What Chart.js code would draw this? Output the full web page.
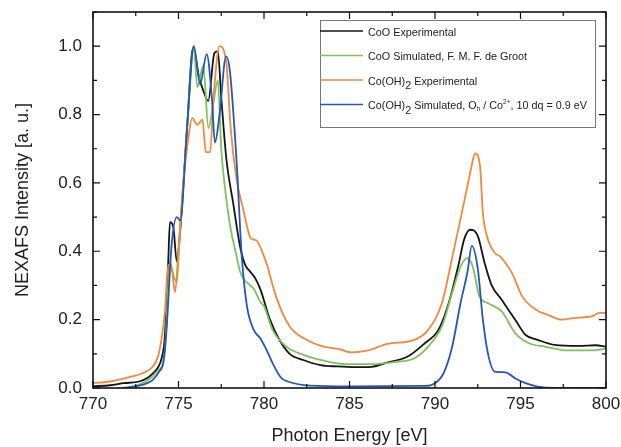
<!DOCTYPE html>
<html>
<head>
<meta charset="utf-8">
<script src="https://cdn.jsdelivr.net/npm/chart.js@4.4.1/dist/chart.umd.min.js"></script>
<style>
  html, body { margin: 0; padding: 0; background: #fff; }
</style>
</head>
<body>
<canvas id="myChart" width="621" height="447"></canvas>
<script>
// CoO experimental
var cooExpEnergy = [770.0, 771.0, 771.8, 772.7, 773.2, 773.5, 773.8, 774.0, 774.2, 774.4, 774.5, 774.7, 774.9, 775.1, 775.5, 775.85, 776.2, 776.45, 776.74, 777.1, 777.3, 777.5, 777.8, 778.2, 778.6, 778.9, 779.2, 779.5, 779.8, 780.35, 780.9, 781.5, 782.3, 783.3, 784.3, 785.3, 786.3, 787.2, 788.4, 789.4, 790.2, 790.8, 791.4, 791.7, 792.05, 792.5, 792.9, 793.3, 793.9, 794.7, 795.3, 796.0, 797.0, 798.4, 799.4, 800.0];
var cooExpIntensity = [0.005, 0.008, 0.014, 0.019, 0.03, 0.043, 0.06, 0.085, 0.15, 0.37, 0.485, 0.47, 0.37, 0.46, 0.76, 0.995, 0.91, 0.87, 0.84, 0.98, 0.985, 0.85, 0.67, 0.54, 0.414, 0.36, 0.34, 0.32, 0.287, 0.2, 0.141, 0.10, 0.082, 0.067, 0.063, 0.061, 0.062, 0.074, 0.092, 0.131, 0.17, 0.248, 0.366, 0.434, 0.463, 0.445, 0.366, 0.302, 0.258, 0.199, 0.155, 0.141, 0.126, 0.123, 0.125, 0.121];

// CoO simulated (de Groot)
var cooSimEnergy = [771.5, 772.0, 772.7, 773.3, 773.7, 773.9, 774.2, 774.35, 774.5, 774.7, 774.9, 775.1, 775.5, 775.9, 776.1, 776.45, 776.75, 777.0, 777.3, 777.5, 777.6, 778.0, 778.4, 778.6, 778.8, 779.2, 779.4, 779.8, 780.0, 780.5, 781.3, 782.3, 783.3, 784.7, 786.3, 787.6, 788.8, 789.6, 790.4, 791.0, 791.5, 791.9, 792.2, 792.6, 793.1, 793.9, 794.7, 795.5, 796.4, 797.8, 799.2, 800.0];
var cooSimIntensity = [0.0, 0.002, 0.01, 0.026, 0.045, 0.055, 0.10, 0.25, 0.37, 0.33, 0.31, 0.47, 0.76, 0.995, 0.88, 0.942, 0.76, 0.82, 0.90, 0.70, 0.64, 0.48, 0.385, 0.341, 0.32, 0.30, 0.29, 0.25, 0.24, 0.17, 0.121, 0.097, 0.082, 0.070, 0.07, 0.076, 0.087, 0.121, 0.18, 0.278, 0.356, 0.38, 0.356, 0.268, 0.248, 0.224, 0.160, 0.131, 0.121, 0.11, 0.11, 0.115];

// Co(OH)2 experimental
var cohExpEnergy = [770.0, 771.0, 771.6, 772.2, 772.9, 773.5, 773.8, 774.0, 774.2, 774.4, 774.6, 774.8, 775.0, 775.3, 775.6, 775.8, 776.1, 776.4, 776.6, 776.85, 777.05, 777.4, 777.8, 778.05, 778.4, 778.8, 779.2, 779.4, 779.6, 780.0, 780.2, 780.7, 781.5, 782.5, 783.5, 784.4, 785.1, 786.1, 787.2, 788.8, 789.6, 790.4, 791.07, 791.56, 791.85, 792.1, 792.34, 792.63, 792.8, 793.1, 793.5, 793.8, 794.5, 795.1, 795.9, 796.6, 797.4, 798.2, 799.2, 799.6, 800.0];
var cohExpIntensity = [0.014, 0.019, 0.025, 0.033, 0.043, 0.063, 0.092, 0.141, 0.22, 0.36, 0.35, 0.28, 0.41, 0.61, 0.74, 0.79, 0.77, 0.785, 0.69, 0.69, 0.85, 1.0, 0.95, 0.76, 0.61, 0.52, 0.44, 0.434, 0.43, 0.385, 0.356, 0.268, 0.18, 0.141, 0.121, 0.114, 0.104, 0.11, 0.129, 0.141, 0.17, 0.248, 0.396, 0.51, 0.58, 0.64, 0.686, 0.65, 0.512, 0.434, 0.395, 0.385, 0.336, 0.268, 0.229, 0.214, 0.2, 0.205, 0.21, 0.22, 0.22];

// Co(OH)2 simulated
var cohSimEnergy = [771.8, 772.7, 773.2, 773.5, 773.9, 774.1, 774.3, 774.6, 774.9, 775.1, 775.5, 775.9, 776.26, 776.65, 776.95, 777.13, 777.4, 777.78, 778.0, 778.4, 778.7, 779.0, 779.4, 779.77, 780.16, 780.5, 781.0, 781.4, 782.7, 785.0, 789.4, 790.0, 790.5, 791.0, 791.5, 791.9, 792.15, 792.5, 792.8, 793.1, 793.5, 794.1, 794.7, 795.3, 796.0, 797.0, 800.0];
var cohSimIntensity = [0.0, 0.007, 0.015, 0.024, 0.05, 0.072, 0.17, 0.42, 0.50, 0.49, 0.76, 1.0, 0.889, 0.977, 0.85, 0.718, 0.80, 0.97, 0.93, 0.66, 0.385, 0.24, 0.17, 0.146, 0.11, 0.073, 0.03, 0.019, 0.007, 0.005, 0.006, 0.014, 0.043, 0.12, 0.25, 0.34, 0.416, 0.35, 0.20, 0.10, 0.048, 0.046, 0.028, 0.014, 0.004, 0.0, 0.0];

var seriesColors = ['#151515', '#7cc45a', '#f5883a', '#2457b8'];
var xTickValues = [770, 775, 780, 785, 790, 795, 800];
var yTickValues = [0, 0.2, 0.4, 0.6, 0.8, 1.0];
// legend text pieces: [text, kind]  kind: '' normal, 'sub', 'subs' small sub, 'sup'
var legendLabels = [
  [['CoO Experimental', '']],
  [['CoO Simulated, F. M. F. de Groot', '']],
  [['Co(OH)', ''], ['2', 'sub'], [' Experimental', '']],
  [['Co(OH)', ''], ['2', 'sub'], [' Simulated, O', ''], ['h', 'subs'], [' / Co', ''], ['2+', 'sup'], [', 10 dq = 0.9 eV', '']]
];

var fontFamily = '"Liberation Sans", Arial, Helvetica, sans-serif';

function toPoints(xs, ys){
  var out = [];
  for (var i = 0; i < xs.length; i++){
    out.push({x: xs[i], y: ys[i]});
  }
  return out;
}
function makeSet(xs, ys, color, order){
  return {
    data: toPoints(xs, ys),
    borderColor: color,
    borderWidth: 1.8,
    pointRadius: 0,
    fill: false,
    cubicInterpolationMode: 'monotone',
    order: order
  };
}

// frame + inward ticks on all four sides
var frameTicks = {
  id: 'frameTicks',
  afterDatasetsDraw: function(chart){
    var a = chart.chartArea, c = chart.ctx;
    var xs = chart.scales.x, ys = chart.scales.y;
    c.save();
    c.strokeStyle = '#111';
    c.lineWidth = 1.2;
    c.beginPath();
    for (var k = 0; k <= 12; k++){
      var v = 770 + k * 2.5;
      var px = xs.getPixelForValue(v);
      var len = (k % 2 == 0) ? 7 : 4;
      c.moveTo(px, a.bottom); c.lineTo(px, a.bottom - len);
      c.moveTo(px, a.top); c.lineTo(px, a.top + len);
    }
    for (var j = 0; j <= 11; j++){
      var py = ys.getPixelForValue(j / 10);
      var len2 = (j % 2 == 0) ? 7 : 4;
      c.moveTo(a.left, py); c.lineTo(a.left + len2, py);
      c.moveTo(a.right, py); c.lineTo(a.right - len2, py);
    }
    c.stroke();
    c.lineWidth = 1.6;
    c.strokeRect(a.left, a.top, a.right - a.left, a.bottom - a.top);
    c.restore();
  }
};

function drawRich(c, segs, x, y){
  for (var i = 0; i < segs.length; i++){
    var t = segs[i][0], kind = segs[i][1];
    var size = 10.8, dy = 0;
    if (kind == 'sub'){ size = 10.8; dy = 4.5; }
    if (kind == 'subs'){ size = 6.5; dy = 3; }
    if (kind == 'sup'){ size = 6.5; dy = -4; }
    c.font = size + 'px ' + fontFamily;
    c.fillText(t, x, y + dy);
    x += c.measureText(t).width;
  }
}

var boxLegend = {
  id: 'boxLegend',
  afterDraw: function(chart){
    var c = chart.ctx;
    var bx = 320, by = 20, bw = 275, bh = 107;
    c.save();
    c.fillStyle = '#fff';
    c.fillRect(bx, by, bw, bh);
    c.strokeStyle = '#777';
    c.lineWidth = 1;
    c.strokeRect(bx + 0.5, by + 0.5, bw, bh);
    c.textBaseline = 'middle';
    for (var i = 0; i < legendLabels.length; i++){
      var ly = 31 + i * 24.5;
      c.strokeStyle = chart.data.datasets[i].borderColor;
      c.lineWidth = 1.6;
      c.beginPath();
      c.moveTo(bx, ly); c.lineTo(bx + 43, ly);
      c.stroke();
      c.fillStyle = '#222';
      drawRich(c, legendLabels[i], bx + 48, ly + 2);
    }
    c.restore();
  }
};

var ctx = document.getElementById('myChart').getContext('2d');
var myChart = new Chart(ctx, {
  type: 'line',
  data: {
    datasets: [
      makeSet(cooExpEnergy, cooExpIntensity, seriesColors[0], 3),
      makeSet(cooSimEnergy, cooSimIntensity, seriesColors[1], 2),
      makeSet(cohExpEnergy, cohExpIntensity, seriesColors[2], 1),
      makeSet(cohSimEnergy, cohSimIntensity, seriesColors[3], 0)
    ]
  },
  options: {
    responsive: false,
    animation: false,
    layout: { padding: { top: 12, right: 15, left: 0, bottom: 0 } },
    plugins: {
      legend: { display: false },
      tooltip: { enabled: false }
    },
    scales: {
      x: {
        type: 'linear',
        min: 770,
        max: 800,
        afterBuildTicks: function(scale){
          scale.ticks = xTickValues.map(function(v){ return {value: v}; });
        },
        afterFit: function(scale){
          scale.height = 59;
          scale.paddingLeft = 0; scale.paddingRight = 0;
        },
        grid: { display: false, drawTicks: false },
        border: { display: false },
        ticks: {
          padding: 6,
          color: '#222',
          font: { family: fontFamily, size: 17 },
          callback: function(v){ return String(v); }
        },
        title: {
          display: true,
          text: 'Photon Energy [eV]',
          color: '#222',
          font: { family: fontFamily, size: 18 },
          padding: { top: -2, bottom: 0 }
        }
      },
      y: {
        min: 0,
        max: 1.1,
        afterBuildTicks: function(scale){
          scale.ticks = yTickValues.map(function(v){ return {value: v}; });
        },
        afterFit: function(scale){
          scale.width = 93;
          scale.paddingTop = 0; scale.paddingBottom = 0;
        },
        grid: { display: false, drawTicks: false },
        border: { display: false },
        ticks: {
          padding: 11,
          color: '#222',
          font: { family: fontFamily, size: 17 },
          callback: function(v){ return Number(v).toFixed(1); }
        },
        title: {
          display: true,
          text: 'NEXAFS Intensity [a. u.]',
          color: '#222',
          font: { family: fontFamily, size: 18 },
          padding: { top: 12, bottom: 0 }
        }
      }
    }
  },
  plugins: [frameTicks, boxLegend]
});
</script>
</body>
</html>
